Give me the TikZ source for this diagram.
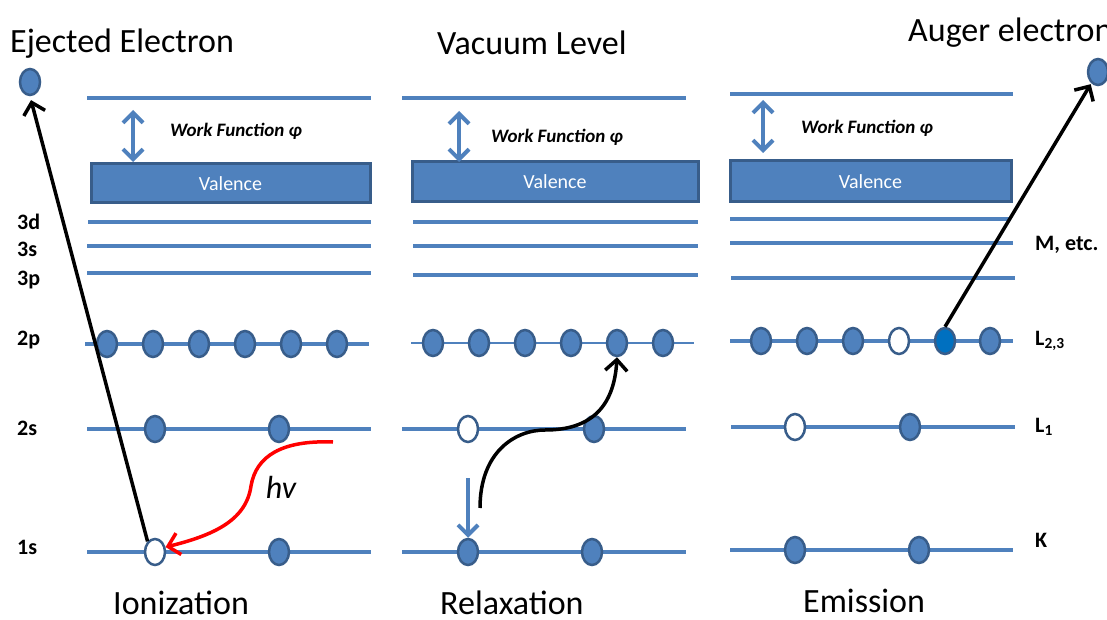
\documentclass[tikz,border=0pt]{standalone}
\usepackage{fontspec}
\setmainfont{Carlito}
\usetikzlibrary{arrows.meta,shapes.geometric}
\definecolor{lblue}{HTML}{4F81BD}
\definecolor{dblue}{HTML}{385D8A}
\definecolor{bblue}{HTML}{0070C0}
\begin{document}
\begin{tikzpicture}[x=1pt,y=-1pt,
 lvl/.style={draw=lblue,line width=4pt},
 el/.style={ellipse,minimum width=20pt,minimum height=26pt,inner sep=0pt,fill=lblue,draw=dblue,line width=2.5pt},
 hole/.style={el,fill=white},
 valbox/.style={rectangle,fill=lblue,draw=dblue,line width=3pt,text=white,font=\fontsize{20}{24}\selectfont,inner sep=0pt},
 wf/.style={inner sep=0pt,font=\fontsize{19}{22}\selectfont\bfseries\itshape},
 shell/.style={anchor=west,inner sep=0pt,font=\fontsize{22}{26}\selectfont\bfseries},
 title/.style={anchor=base west,inner sep=0pt,font=\fontsize{34}{40}\selectfont},
 barr/.style={draw=black,line width=3.5pt,-{Straight Barb[length=11pt,width=22pt]}},
 rarr/.style={draw=red,line width=3.5pt,-{Straight Barb[length=11pt,width=22pt]}},
 warr/.style={draw=lblue,line width=4pt,{Straight Barb[length=10pt,width=20pt]}-{Straight Barb[length=10pt,width=20pt]}},
 darr/.style={draw=lblue,line width=4pt,-{Straight Barb[length=10pt,width=20pt]}}
]
\clip (0,0) rectangle (1107,620);
\fill[white] (0,0) rectangle (1107,620);

% ---------- Panel 1: Ionization ----------
\draw[lvl] (87,98) -- (371,98);
\node[valbox,minimum width=279pt,minimum height=39pt] (v1) at (230.5,183.5) {Valence};
\draw[lvl] (88,222) -- (371,222);
\draw[lvl] (87,246) -- (371,246);
\draw[lvl] (87,273) -- (371,273);
\draw[lvl] (85,344) -- (369,344);
\draw[lvl] (87,429) -- (371,429);
\draw[lvl] (87,552) -- (371,552);
\coordinate (w1a) at (133,110);
\coordinate (w1b) at (133,162);
\draw[warr] (w1a) -- (w1b);
\node[wf] (wf1) at (236,131) {Work Function φ};

\foreach \x [count=\i] in {107,153,199,245,291,337} \node[el] (a2p\i) at (\x,344) {};
\node[el] (a2s1) at (155,429) {};
\node[el] (a2s2) at (279,429) {};
\node[hole] (a1s1) at (155,552) {};
\node[el] (a1s2) at (279,552) {};
\node[el] (ej) at (30,82) {};

\node[shell] (l3d) at (17,222) {3d};
\node[shell] (l3s) at (17,249) {3s};
\node[shell] (l3p) at (17,280) {3p};
\node[shell] (l2p) at (17,340) {2p};
\node[shell] (l2s) at (17,428) {2s};
\node[shell] (l1s) at (17,547) {1s};

\draw[barr,shorten >=4pt] (a1s1.125) -- (ej.south);
\coordinate (hvs) at (333,442);
\draw[rarr] (hvs) .. controls (282,440) and (256,456) .. (251,486) .. controls (246,522) and (210,536) .. (a1s1.25);
\node[font=\fontsize{32}{36}\selectfont\itshape] (hv) at (281,487) {hv};

\node[title] (tej) at (10,53) {Ejected Electron};
\node[title] (tion) at (113,614) {Ionization};

% ---------- Panel 2: Relaxation ----------
\draw[lvl] (402,98) -- (686,98);
\node[valbox,minimum width=286pt,minimum height=40pt] (v2) at (555,182) {Valence};
\draw[lvl] (413,222) -- (698,222);
\draw[lvl] (413,246) -- (698,246);
\draw[lvl] (413,275) -- (698,275);
\draw[draw=lblue,line width=2pt] (411,343) -- (694,343);
\draw[lvl] (402,429) -- (686,429);
\draw[lvl] (402,552) -- (686,552);
\coordinate (w2a) at (459,111);
\coordinate (w2b) at (459,162);
\draw[warr] (w2a) -- (w2b);
\node[wf] (wf2) at (557,137) {Work Function φ};

\foreach \x [count=\i] in {433,479,525,571,617,663} \node[el] (b2p\i) at (\x,343) {};
\node[hole] (b2s1) at (468,429) {};
\node[el] (b2s2) at (594,429) {};
\node[el] (b1s1) at (468,552) {};
\node[el] (b1s2) at (592,552) {};

\coordinate (dstart) at (468,478);
\draw[darr] (dstart) -- (b1s1.north);
\coordinate (cstart) at (480,508);
\draw[barr] (cstart) .. controls (480,452) and (515,430) .. (545,430) .. controls (590,430) and (614,408) .. (b2p5.south);

\node[title] (tvac) at (437,55) {Vacuum Level};
\node[title] (trel) at (440,614) {Relaxation};

% ---------- Panel 3: Emission ----------
\draw[lvl] (730,94) -- (1013,94);
\node[valbox,minimum width=281pt,minimum height=41pt] (v3) at (870.5,181.5) {Valence};
\draw[lvl] (730,219) -- (1011,219);
\draw[lvl] (730,243) -- (1013,243);
\draw[lvl] (731,278) -- (1015,278);
\draw[lvl] (730,341) -- (1013,341);
\draw[lvl] (731,427) -- (1015,427);
\draw[lvl] (730,550) -- (1013,550);
\coordinate (w3a) at (763,100);
\coordinate (w3b) at (763,153);
\draw[warr] (w3a) -- (w3b);
\node[wf] (wf3) at (867,128) {Work Function φ};

\node[el] (c2p1) at (761,341) {};
\node[el] (c2p2) at (807,341) {};
\node[el] (c2p3) at (853,341) {};
\node[hole] (c2p4) at (899,341) {};
\node[el,fill=bblue] (c2p5) at (945,341) {};
\node[el] (c2p6) at (990,341) {};
\node[hole] (c2s1) at (795,427) {};
\node[el] (c2s2) at (910,427) {};
\node[el] (c1s1) at (795,550) {};
\node[el] (c1s2) at (919,550) {};
\node[el] (aug) at (1098,72) {};

\draw[barr,shorten >=1pt] (c2p5.north) -- (aug);

\node[shell] (lM) at (1035,245) {M, etc.};
\node[shell] (lL23) at (1035,341) {L\textsubscript{2,3}};
\node[shell] (lL1) at (1035,427) {L\textsubscript{1}};
\node[shell] (lK) at (1035,540) {K};

\node[title] (taug) at (908,42) {Auger electron};
\node[title] (temi) at (803,612) {Emission};
\end{tikzpicture}
\end{document}
